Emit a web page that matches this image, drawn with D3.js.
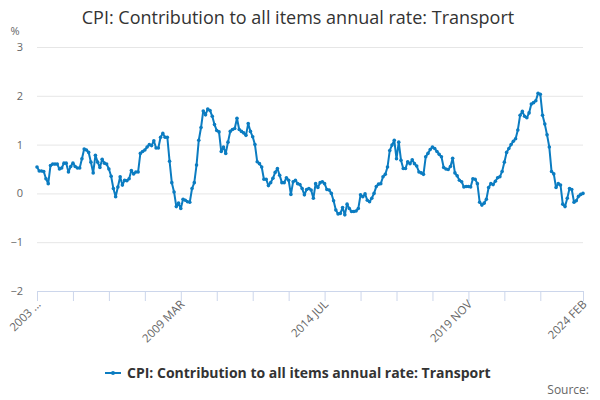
<!DOCTYPE html>
<html>
<head>
<meta charset="utf-8">
<script src="https://cdn.jsdelivr.net/npm/d3@7"></script>
<style>
  html, body { margin: 0; padding: 0; background: #fff; }
  svg { display: block; font-family: "Open Sans", "DejaVu Sans", sans-serif; }
</style>
</head>
<body>
<svg id="chart" width="600" height="400"></svg>
<script>
// ---- Data ----
const startMonth = "2003-11";          // first category (2003 NOV)
const endMonth = "2024-02";            // last category (2024 FEB)
const values = [
  0.54, 0.46, 0.46, 0.45, 0.30, 0.20, 0.57, 0.60, 0.60, 0.60, 0.50, 0.52,
  0.62, 0.62, 0.44, 0.55, 0.62, 0.55, 0.52, 0.52, 0.71, 0.91, 0.89, 0.84,
  0.64, 0.42, 0.78, 0.64, 0.53, 0.70, 0.62, 0.60, 0.50, 0.35, 0.10, -0.07,
  0.13, 0.34, 0.17, 0.27, 0.26, 0.30, 0.47, 0.40, 0.44, 0.44, 0.82, 0.86,
  0.89, 0.95, 1.00, 0.98, 1.08, 0.93, 0.93, 1.15, 1.23, 1.15, 1.15, 0.66,
  0.22, 0.03, -0.27, -0.20, -0.31, -0.12, -0.14, -0.17, -0.18, 0.10, 0.22, 0.58,
  1.09, 1.35, 1.69, 1.61, 1.73, 1.70, 1.58, 1.41, 1.29, 1.26, 0.86, 0.95,
  0.82, 1.05, 1.27, 1.31, 1.33, 1.54, 1.31, 1.27, 1.24, 1.19, 1.43, 1.27,
  1.16, 1.00, 0.65, 0.61, 0.54, 0.29, 0.29, 0.16, 0.22, 0.31, 0.43, 0.51,
  0.37, 0.22, 0.22, 0.32, 0.27, -0.02, 0.24, 0.27, 0.20, 0.18, 0.10, -0.03,
  0.08, 0.10, 0.07, -0.10, 0.20, 0.12, 0.22, 0.24, 0.20, 0.08, 0.07, 0.00,
  -0.15, -0.34, -0.42, -0.41, -0.29, -0.44, -0.22, -0.31, -0.37, -0.37, -0.36, -0.31,
  -0.03, -0.07, -0.01, -0.14, -0.17, -0.10, 0.00, 0.14, 0.19, 0.20, 0.34, 0.39,
  0.54, 0.88, 0.99, 1.09, 0.71, 1.05, 0.68, 0.51, 0.51, 0.65, 0.61, 0.69,
  0.61, 0.56, 0.44, 0.42, 0.39, 0.75, 0.82, 0.90, 0.95, 0.92, 0.86, 0.80,
  0.75, 0.53, 0.50, 0.49, 0.55, 0.72, 0.42, 0.36, 0.27, 0.24, 0.13, 0.14,
  0.14, 0.13, 0.30, 0.29, 0.20, -0.18, -0.24, -0.20, -0.12, 0.12, 0.20, 0.18,
  0.25, 0.32, 0.34, 0.45, 0.64, 0.84, 0.92, 1.00, 1.07, 1.12, 1.30, 1.60,
  1.68, 1.58, 1.55, 1.65, 1.83, 1.86, 1.90, 2.05, 2.03, 1.60, 1.42, 1.20,
  0.95, 0.45, 0.40, 0.12, 0.20, 0.17, -0.22, -0.27, -0.10, 0.10, 0.08, -0.18,
  -0.15, -0.06, -0.02, 0.00
];
const yTicks = [-2, -1, 0, 1, 2, 3];
const xTickLabels = ["2003 ...", "2009 MAR", "2014 JUL", "2019 NOV", "2024 FEB"];
const seriesName = "CPI: Contribution to all items annual rate: Transport";
const title = "CPI: Contribution to all items annual rate: Transport";
const yUnit = "%";
const sourceText = "Source:";

// ---- Categories (monthly) ----
const parse = d3.timeParse("%Y-%m");
const months = d3.timeMonth.range(parse(startMonth), d3.timeMonth.offset(parse(endMonth), 1));
const fmt = d3.timeFormat("%Y %b");
const cats = months.map(m => fmt(m).toUpperCase());
const data = values.map((v, i) => ({ cat: cats[i], v }));

// ---- Layout ----
const svg = d3.select("#chart");
const plot = { left: 37, right: 583, top: 47, bottom: 291 };
const color = "#0b7cc1";

const x = d3.scalePoint().domain(cats).range([plot.left, plot.right]);
const y = d3.scaleLinear().domain([-2, 3]).range([plot.bottom, plot.top]);

// Title
svg.append("text")
  .attr("x", 298).attr("y", 24)
  .attr("text-anchor", "middle")
  .attr("font-size", 18)
  .attr("fill", "#333")
  .text(title);

// Y unit
svg.append("text")
  .attr("x", 15).attr("y", 35)
  .attr("text-anchor", "middle")
  .attr("font-size", 11)
  .attr("fill", "#666")
  .text(yUnit);

// Gridlines + y labels
const yAxis = d3.axisLeft(y).tickValues(yTicks).tickSize(-(plot.right - plot.left)).tickPadding(14).tickFormat(d3.format("d"));
const gy = svg.append("g").attr("transform", `translate(${plot.left},0)`).call(yAxis);
gy.select(".domain").remove();
gy.selectAll(".tick line").attr("stroke", "#e6e6e6").attr("stroke-width", 1);
gy.selectAll(".tick text").attr("fill", "#666").attr("font-size", 11)
  .attr("font-family", "Open Sans, DejaVu Sans, sans-serif");

// X axis
const tickIdx = d3.range(0, 225, 16).concat([cats.length - 1]);
const labelIdx = [0, 64, 128, 192, cats.length - 1];
const xAxis = d3.axisBottom(x)
  .tickValues(tickIdx.map(i => cats[i]))
  .tickSize(10)
  .tickSizeOuter(0)
  .tickFormat(d => {
    const k = labelIdx.findIndex(i => cats[i] === d);
    return k >= 0 ? xTickLabels[k] : "";
  });
const gx = svg.append("g").attr("transform", `translate(0,${plot.bottom})`).call(xAxis);
gx.select(".domain").attr("stroke", "#ccd6eb");
gx.selectAll(".tick line").attr("stroke", "#ccd6eb");
gx.selectAll(".tick text")
  .attr("fill", "#666").attr("font-size", 11.5)
  .attr("font-family", "Open Sans, DejaVu Sans, sans-serif")
  .attr("text-anchor", "end")
  .attr("dy", null).attr("y", 0)
  .attr("transform", "translate(4,14) rotate(-45)");

// Line
const line = d3.line().x(d => x(d.cat)).y(d => y(d.v));
svg.append("path").datum(data)
  .attr("fill", "none")
  .attr("stroke", color)
  .attr("stroke-width", 2)
  .attr("stroke-linejoin", "round")
  .attr("d", line);
svg.append("g").selectAll("circle").data(data).join("circle")
  .attr("cx", d => x(d.cat)).attr("cy", d => y(d.v))
  .attr("r", 1.8).attr("fill", color);

// Legend
const lg = svg.append("g").attr("transform", "translate(0,373)");
lg.append("line").attr("x1", 105).attr("x2", 121).attr("y1", 0).attr("y2", 0)
  .attr("stroke", color).attr("stroke-width", 2);
lg.append("circle").attr("cx", 113).attr("cy", 0).attr("r", 2).attr("fill", color);
lg.append("text").attr("x", 127).attr("y", 5)
  .attr("font-size", 14).attr("font-weight", "bold").attr("fill", "#333")
  .text(seriesName);

// Source
svg.append("text").attr("x", 589).attr("y", 394)
  .attr("text-anchor", "end").attr("font-size", 12).attr("fill", "#666")
  .text(sourceText);
</script>
</body>
</html>
